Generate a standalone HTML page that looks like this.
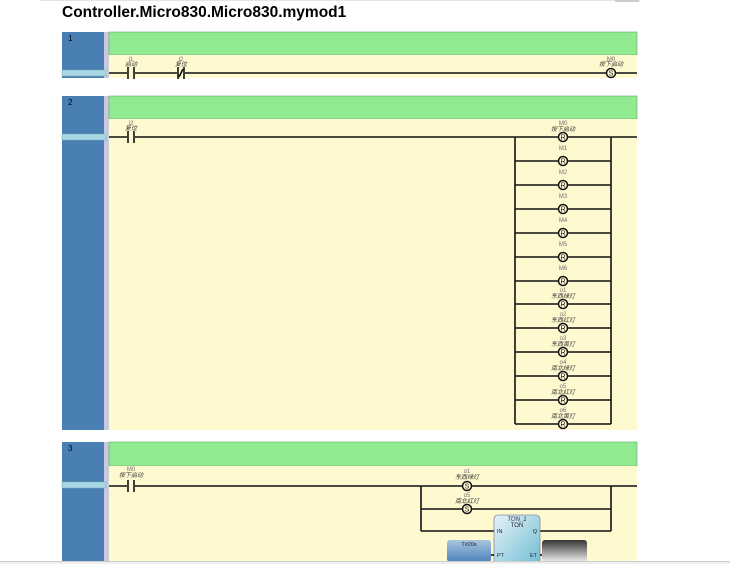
<!DOCTYPE html>
<html><head><meta charset="utf-8"><style>
html,body{margin:0;padding:0;background:#fff;}
svg{display:block;font-family:"Liberation Sans","Noto Sans CJK SC",sans-serif;}
.n{font-size:6px;fill:#7a6a6a;text-anchor:middle}
.d{font-size:6px;fill:#333;font-style:italic;text-anchor:middle}
.w{stroke:#111;stroke-width:1.6;fill:none}
.c{stroke:#111;stroke-width:1.5;fill:#fffbd8}
.cl{font-size:7px;fill:#111;text-anchor:middle}
</style></head><body>
<svg width="730" height="564" viewBox="0 0 730 564" xmlns="http://www.w3.org/2000/svg">
<rect x="0" y="0" width="730" height="564" fill="#fff"/>
<line x1="40" y1="0.5" x2="640" y2="0.5" stroke="#e4e4e4"/>
<rect x="615" y="0" width="24" height="2" fill="#ccc"/>
<text x="62" y="17" font-size="15.5" font-weight="bold" fill="#000">Controller.Micro830.Micro830.mymod1</text>

<!-- Rung 1 -->
<rect x="62" y="32" width="42" height="46" fill="#4a7fb4"/>
<rect x="104" y="32" width="5" height="46" fill="#c7c9dc"/>
<rect x="109" y="32" width="528" height="23" fill="#90ea90" stroke="#6aa86a" stroke-width="0.6"/>
<rect x="109" y="55" width="528" height="23" fill="#fff9d0"/>
<rect x="62" y="70" width="44" height="6" fill="#a8d8e6" stroke="#7aa" stroke-width="0.5"/>
<text x="68" y="41" font-size="8" fill="#000">1</text>
<line class="w" x1="109" y1="73" x2="637" y2="73"/>
<rect x="127" y="67" width="8" height="12" fill="#fff9d0"/>
<line class="w" x1="128" y1="67" x2="128" y2="79"/><line class="w" x1="134" y1="67" x2="134" y2="79"/>
<text class="n" x="131" y="61">i1</text><text class="d" x="131" y="66">启动</text>
<rect x="177" y="67" width="8" height="12" fill="#fff9d0"/>
<line class="w" x1="178" y1="67" x2="178" y2="79"/><line class="w" x1="184" y1="67" x2="184" y2="79"/><line class="w" x1="179" y1="77" x2="183" y2="69"/>
<text class="n" x="181" y="61">i2</text><text class="d" x="181" y="66">复位</text>
<circle class="c" cx="611" cy="73" r="4.5"/><text class="cl" x="611" y="75.5">S</text>
<text class="n" x="611" y="61">M0</text><text class="d" x="611" y="66">按下启动</text>

<!-- Rung 2 -->
<rect x="62" y="96" width="42" height="334" fill="#4a7fb4"/>
<rect x="104" y="96" width="5" height="334" fill="#c7c9dc"/>
<rect x="109" y="96" width="528" height="23" fill="#90ea90" stroke="#6aa86a" stroke-width="0.6"/>
<rect x="109" y="119" width="528" height="311" fill="#fff9d0"/>
<rect x="62" y="134" width="44" height="6" fill="#a8d8e6" stroke="#7aa" stroke-width="0.5"/>
<text x="68" y="105" font-size="8" fill="#000">2</text>
<line class="w" x1="109" y1="137" x2="637" y2="137"/>
<rect x="127" y="131" width="8" height="12" fill="#fff9d0"/>
<line class="w" x1="128" y1="131" x2="128" y2="143"/><line class="w" x1="134" y1="131" x2="134" y2="143"/>
<text class="n" x="131" y="125">i2</text><text class="d" x="131" y="130">复位</text>
<line class="w" x1="515" y1="137" x2="515" y2="424"/>
<line class="w" x1="611" y1="137" x2="611" y2="424"/>
<g>
<line class="w" x1="515" y1="161" x2="611" y2="161"/>
<line class="w" x1="515" y1="185" x2="611" y2="185"/>
<line class="w" x1="515" y1="209" x2="611" y2="209"/>
<line class="w" x1="515" y1="233" x2="611" y2="233"/>
<line class="w" x1="515" y1="257" x2="611" y2="257"/>
<line class="w" x1="515" y1="281" x2="611" y2="281"/>
<line class="w" x1="515" y1="304" x2="611" y2="304"/>
<line class="w" x1="515" y1="328" x2="611" y2="328"/>
<line class="w" x1="515" y1="352" x2="611" y2="352"/>
<line class="w" x1="515" y1="376" x2="611" y2="376"/>
<line class="w" x1="515" y1="400" x2="611" y2="400"/>
<line class="w" x1="515" y1="424" x2="611" y2="424"/>
</g>
<g>
<circle class="c" cx="563" cy="137" r="4.5"/><text class="cl" x="563" y="139.5">R</text>
<text class="n" x="563" y="125">M0</text><text class="d" x="563" y="131">按下启动</text>
<circle class="c" cx="563" cy="161" r="4.5"/><text class="cl" x="563" y="163.5">R</text><text class="n" x="563" y="150">M1</text>
<circle class="c" cx="563" cy="185" r="4.5"/><text class="cl" x="563" y="187.5">R</text><text class="n" x="563" y="174">M2</text>
<circle class="c" cx="563" cy="209" r="4.5"/><text class="cl" x="563" y="211.5">R</text><text class="n" x="563" y="198">M3</text>
<circle class="c" cx="563" cy="233" r="4.5"/><text class="cl" x="563" y="235.5">R</text><text class="n" x="563" y="222">M4</text>
<circle class="c" cx="563" cy="257" r="4.5"/><text class="cl" x="563" y="259.5">R</text><text class="n" x="563" y="246">M5</text>
<circle class="c" cx="563" cy="281" r="4.5"/><text class="cl" x="563" y="283.5">R</text><text class="n" x="563" y="270">M6</text>
<circle class="c" cx="563" cy="304" r="4.5"/><text class="cl" x="563" y="306.5">R</text><text class="n" x="563" y="292">o1</text><text class="d" x="563" y="298">东西绿灯</text>
<circle class="c" cx="563" cy="328" r="4.5"/><text class="cl" x="563" y="330.5">R</text><text class="n" x="563" y="316">o2</text><text class="d" x="563" y="322">东西红灯</text>
<circle class="c" cx="563" cy="352" r="4.5"/><text class="cl" x="563" y="354.5">R</text><text class="n" x="563" y="340">o3</text><text class="d" x="563" y="346">东西黄灯</text>
<circle class="c" cx="563" cy="376" r="4.5"/><text class="cl" x="563" y="378.5">R</text><text class="n" x="563" y="364">o4</text><text class="d" x="563" y="370">南北绿灯</text>
<circle class="c" cx="563" cy="400" r="4.5"/><text class="cl" x="563" y="402.5">R</text><text class="n" x="563" y="388">o5</text><text class="d" x="563" y="394">南北红灯</text>
<circle class="c" cx="563" cy="424" r="4.5"/><text class="cl" x="563" y="426.5">R</text><text class="n" x="563" y="412">o6</text><text class="d" x="563" y="418">南北黄灯</text>
</g>

<!-- Rung 3 -->
<rect x="62" y="442" width="42" height="122" fill="#4a7fb4"/>
<rect x="104" y="442" width="5" height="122" fill="#c7c9dc"/>
<rect x="109" y="442" width="528" height="24" fill="#90ea90" stroke="#6aa86a" stroke-width="0.6"/>
<rect x="109" y="466" width="528" height="98" fill="#fff9d0"/>
<rect x="62" y="482" width="44" height="6" fill="#a8d8e6" stroke="#7aa" stroke-width="0.5"/>
<text x="68" y="451" font-size="8" fill="#000">3</text>
<line class="w" x1="109" y1="486" x2="637" y2="486"/>
<rect x="127" y="480" width="8" height="12" fill="#fff9d0"/>
<line class="w" x1="128" y1="480" x2="128" y2="492"/><line class="w" x1="134" y1="480" x2="134" y2="492"/>
<text class="n" x="131" y="471">M0</text><text class="d" x="131" y="477">按下启动</text>
<line class="w" x1="421" y1="486" x2="421" y2="531"/>
<line class="w" x1="611" y1="486" x2="611" y2="531"/>
<line class="w" x1="421" y1="509" x2="611" y2="509"/>
<line class="w" x1="421" y1="531" x2="494" y2="531"/>
<line class="w" x1="540" y1="531" x2="611" y2="531"/>
<circle class="c" cx="467" cy="486" r="4.5"/><text class="cl" x="467" y="488.5">S</text>
<text class="n" x="467" y="473">o1</text><text class="d" x="467" y="479">东西绿灯</text>
<circle class="c" cx="467" cy="509" r="4.5"/><text class="cl" x="467" y="511.5">S</text>
<text class="n" x="467" y="497">o5</text><text class="d" x="467" y="503">南北红灯</text>
<defs>
<linearGradient id="tg" x1="0" y1="0" x2="1" y2="1"><stop offset="0" stop-color="#e6f2f6"/><stop offset="1" stop-color="#6cbcd4"/></linearGradient>
<linearGradient id="bg" x1="0" y1="0" x2="0" y2="1"><stop offset="0" stop-color="#a8c4e0"/><stop offset="1" stop-color="#4d82b8"/></linearGradient>
<linearGradient id="gg" x1="0" y1="0" x2="0" y2="1"><stop offset="0" stop-color="#333"/><stop offset="1" stop-color="#eee"/></linearGradient>
</defs>
<rect x="494" y="515" width="46" height="52" rx="4" fill="url(#tg)" stroke="#889" stroke-width="0.8"/>
<text x="517" y="521" font-size="6" font-style="italic" fill="#334" text-anchor="middle">TON_1</text>
<text x="517" y="527" font-size="6" fill="#223" text-anchor="middle">TON</text>
<text x="497" y="533" font-size="5.5" fill="#223">IN</text>
<text x="537" y="533" font-size="5.5" fill="#223" text-anchor="end">Q</text>
<text x="497" y="557" font-size="5.5" fill="#223">PT</text>
<text x="537" y="557" font-size="5.5" fill="#223" text-anchor="end">ET</text>
<line class="w" x1="490" y1="555" x2="494" y2="555"/>
<line class="w" x1="540" y1="555" x2="543" y2="555"/>
<rect x="447" y="540" width="44" height="22" rx="3" fill="url(#bg)"/>
<text x="469" y="546" font-size="5.5" fill="#223" text-anchor="middle">T#20s</text>
<rect x="542" y="540" width="45" height="22" rx="3" fill="url(#gg)"/>
<rect x="0" y="561" width="730" height="3" fill="#efefef"/>
<line x1="0" y1="561.5" x2="730" y2="561.5" stroke="#ccc"/>
</svg>
</body></html>
